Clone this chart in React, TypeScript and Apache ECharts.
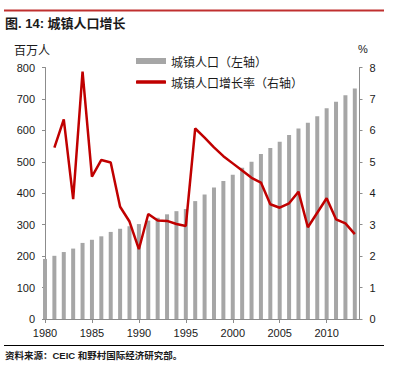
import React, { useEffect, useRef } from "react";
import * as echarts from "echarts";

const years = [
  1980, 1981, 1982, 1983, 1984, 1985, 1986, 1987, 1988, 1989,
  1990, 1991, 1992, 1993, 1994, 1995, 1996, 1997, 1998, 1999,
  2000, 2001, 2002, 2003, 2004, 2005, 2006, 2007, 2008, 2009,
  2010, 2011, 2012, 2013,
];
// 城镇人口 (百万人)
const urbanPop = [
  191, 201, 213, 224, 242, 252, 263, 277, 287, 295,
  302, 313, 322, 333, 343, 350, 375, 396, 418, 439,
  459, 481, 500, 525, 544, 564, 585, 606, 624, 645,
  670, 691, 712, 733,
];
// 城镇人口增长率 (%), 1981-2013
const growthYears = years.slice(1);
const growthRate = [
  5.45, 6.35, 3.81, 7.87, 4.53, 5.06, 4.98, 3.57, 3.1,
  2.22, 3.34, 3.13, 3.12, 3.02, 2.96, 6.06, 5.77, 5.46, 5.18,
  4.95, 4.72, 4.49, 4.34, 3.65, 3.54, 3.68, 4.05, 2.92, 3.38,
  3.84, 3.17, 3.04, 2.7,
];
const xTickYears = [1980, 1985, 1990, 1995, 2000, 2005, 2010];
const leftTicks = { min: 0, max: 800, interval: 100 };
const rightTicks = { min: 0, max: 8, interval: 1 };

const barName = "城镇人口（左轴）";
const lineName = "城镇人口增长率（右轴）";
const titleText = "图. 14: 城镇人口增长";
const sourceText = "资料来源：CEIC 和野村国际经济研究部。";

const FONT = "'Liberation Sans', Arial, 'Noto Sans CJK SC', sans-serif";
const CJK = "'Noto Sans CJK SC', 'Liberation Sans', sans-serif";
const AXIS_COLOR = "#8c8c8c";
const TEXT_COLOR = "#1a1a1a";
const BAR_COLOR = "#a6a6a6";
const LINE_COLOR = "#c00000";

export default function App() {
  const ref = useRef<HTMLDivElement>(null);
  useEffect(() => {
    if (!ref.current) return;
    const chart = echarts.init(ref.current, null, { renderer: "svg" });
    const axisCommon = {
      axisLine: { show: true, lineStyle: { color: AXIS_COLOR, width: 1 } },
      axisTick: { show: true, inside: false, length: 3, lineStyle: { color: AXIS_COLOR } },
      splitLine: { show: false },
    };
    const legendText = { fontSize: 12, color: TEXT_COLOR, fontFamily: CJK };
    chart.setOption({
      animation: false,
      backgroundColor: "#ffffff",
      grid: { left: 45, right: 36.5, top: 67.5, bottom: 50, containLabel: false },
      legend: [
        {
          orient: "vertical",
          left: 136,
          top: 55,
          padding: 0,
          itemWidth: 30,
          itemHeight: 6,
          textStyle: legendText,
          data: [{ name: barName, icon: "rect" }],
        },
        {
          orient: "vertical",
          left: 136,
          top: 76,
          padding: 0,
          itemWidth: 30,
          itemHeight: 3.5,
          textStyle: legendText,
          data: [{ name: lineName, icon: "roundRect" }],
        },
      ],
      xAxis: {
        type: "value",
        min: 1980,
        max: 2013.5,
        interval: 5,
        axisLine: { show: true, onZero: false, lineStyle: { color: AXIS_COLOR, width: 1 } },
        axisTick: {
          show: true,
          length: 4,
          customValues: xTickYears,
          lineStyle: { color: AXIS_COLOR },
        },
        axisLabel: {
          customValues: xTickYears,
          fontSize: 11,
          color: TEXT_COLOR,
          fontFamily: FONT,
          margin: 8,
          formatter: (v: number) => String(v),
        },
        splitLine: { show: false },
      },
      yAxis: [
        {
          type: "value",
          ...leftTicks,
          ...axisCommon,
          axisLabel: { fontSize: 11, color: TEXT_COLOR, fontFamily: FONT, margin: 10 },
        },
        {
          type: "value",
          position: "right",
          ...rightTicks,
          ...axisCommon,
          axisLabel: { fontSize: 11, color: TEXT_COLOR, fontFamily: FONT, margin: 10 },
        },
      ],
      series: [
        {
          name: barName,
          type: "bar",
          yAxisIndex: 0,
          barWidth: 4,
          clip: true,
          itemStyle: { color: BAR_COLOR },
          data: years.map((y, i) => [y, urbanPop[i]]),
        },
        {
          name: lineName,
          type: "line",
          yAxisIndex: 1,
          symbol: "none",
          showSymbol: false,
          lineStyle: { color: LINE_COLOR, width: 2.5 },
          itemStyle: { color: LINE_COLOR },
          data: growthYears.map((y, i) => [y, growthRate[i]]),
        },
      ],
      graphic: [
        {
          type: "line",
          shape: { x1: 4, y1: 10.5, x2: 384, y2: 10.5 },
          style: { stroke: "#c0302f", lineWidth: 2 },
        },
        {
          type: "text",
          left: 5,
          top: 17,
          style: {
            text: titleText,
            font: `bold 13px ${FONT}`,
            fill: TEXT_COLOR,
          },
        },
        {
          type: "text",
          left: 14,
          top: 43,
          style: { text: "百万人", font: `12px ${CJK}`, fill: TEXT_COLOR },
        },
        {
          type: "text",
          left: 358,
          top: 43,
          style: { text: "%", font: `11px ${FONT}`, fill: TEXT_COLOR },
        },
        {
          type: "line",
          shape: { x1: 4, y1: 345.5, x2: 384, y2: 345.5 },
          style: { stroke: "#000000", lineWidth: 1 },
        },
        {
          type: "text",
          left: 5,
          top: 351,
          style: { text: sourceText, font: `bold 9.5px ${FONT}`, fill: TEXT_COLOR },
        },
      ],
    });
    return () => chart.dispose();
  }, []);
  return (
    <div
      ref={ref}
      style={{ position: "absolute", left: 0, top: 0, width: 396, height: 369 }}
    />
  );
}
